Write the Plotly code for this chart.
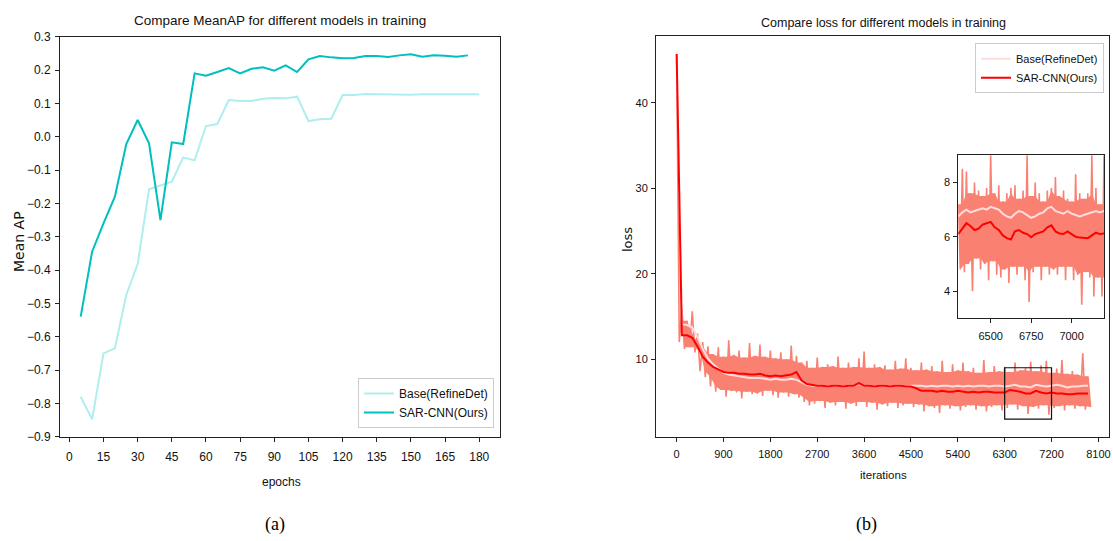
import plotly.graph_objects as go

# ---------------- (a) Mean AP data ----------------
epochs_base = list(range(5, 181, 5))
base_ap = [-0.78, -0.848, -0.65, -0.635, -0.475, -0.382, -0.158, -0.146, -0.135, -0.062,
           -0.071, 0.032, 0.038, 0.11, 0.107, 0.107, 0.114, 0.116, 0.115, 0.12,
           0.047, 0.052, 0.054, 0.125, 0.125, 0.128, 0.127, 0.126, 0.125, 0.126,
           0.127, 0.127, 0.127, 0.128, 0.128, 0.127]
epochs_sar = list(range(5, 176, 5))
sar_ap = [-0.54, -0.345, -0.26, -0.18, -0.022, 0.05, -0.02, -0.25, -0.017, -0.022,
          0.19, 0.183, 0.194, 0.206, 0.19, 0.204, 0.208, 0.198, 0.214, 0.194,
          0.232, 0.242, 0.238, 0.235, 0.236, 0.242, 0.242, 0.239, 0.244, 0.247,
          0.24, 0.244, 0.243, 0.24, 0.244]
ap_xticks = list(range(0, 181, 15))
ap_yticks = [0.3, 0.2, 0.1, 0.0, -0.1, -0.2, -0.3, -0.4, -0.5, -0.6, -0.7, -0.8, -0.9]
ap_yticklabels = ["0.3", "0.2", "0.1", "0.0", "\u22120.1", "\u22120.2", "\u22120.3", "\u22120.4",
                  "\u22120.5", "\u22120.6", "\u22120.7", "\u22120.8", "\u22120.9"]

# ---------------- (b) loss data ----------------
iters = list(range(0, 8000, 100))
raw_hi = [45.7, 16.0, 14.5, 15.6, 13.0, 12.0, 11.5, 10.6, 11.4, 10.3,
          12.2, 10.5, 11.0, 10.2, 11.9, 10.4, 11.7, 10.3, 11.0, 10.1,
          10.8, 10.0, 11.6, 10.4, 9.6, 9.8, 9.0, 10.2, 9.1, 9.4,
          9.2, 10.3, 9.0, 9.6, 9.1, 10.1, 10.9, 9.0, 9.4, 9.1,
          9.3, 8.8, 9.8, 8.9, 10.1, 9.0, 8.7, 9.6, 8.8, 9.2,
          8.6, 9.8, 8.5, 9.4, 8.7, 9.6, 8.6, 9.0, 8.4, 9.9,
          8.5, 9.2, 8.6, 9.1, 8.5, 9.6, 8.7, 9.0, 9.7, 8.6,
          9.3, 9.8, 8.4, 8.9, 9.9, 8.3, 8.6, 8.2, 10.7, 8.0]
raw_lo = [12.0, 11.2, 11.4, 10.8, 8.6, 7.9, 6.8, 6.2, 6.4, 5.6,
          6.3, 6.1, 5.4, 6.2, 5.9, 6.0, 5.7, 6.3, 5.8, 5.5,
          6.1, 5.6, 5.9, 5.5, 5.0, 4.6, 4.8, 5.1, 4.3, 4.9,
          4.6, 5.0, 4.2, 4.8, 4.5, 5.0, 4.4, 4.9, 4.1, 4.7,
          4.5, 4.9, 4.3, 4.6, 4.8, 4.4, 4.7, 3.9, 4.5, 4.3,
          3.7, 4.6, 4.2, 4.5, 4.0, 4.4, 4.6, 4.1, 4.5, 3.9,
          4.4, 4.6, 4.0, 4.3, 4.7, 4.1, 4.5, 3.6, 4.4, 4.2,
          4.6, 3.5, 4.3, 4.5, 4.0, 4.6, 4.2, 4.5, 4.1, 4.4]
base_smooth = [45.7, 14.1, 14.0, 13.7, 12.6, 11.2, 10.1, 9.4, 8.9, 8.4,
               8.2, 8.1, 8.0, 7.9, 7.8, 7.8, 7.8, 7.7, 7.6, 7.7,
               7.6, 7.6, 7.7, 7.6, 7.3, 7.0, 6.9, 6.9, 6.9, 6.8,
               6.9, 6.9, 6.8, 6.9, 6.9, 7.1, 6.9, 6.9, 6.8, 6.9,
               6.9, 6.8, 6.9, 6.9, 6.8, 6.9, 6.9, 6.9, 6.8, 6.9,
               6.8, 6.9, 6.9, 6.8, 6.9, 6.8, 6.9, 6.8, 6.9, 6.9,
               6.8, 6.9, 6.9, 6.8, 6.9, 7.0, 6.8, 6.8, 6.7, 7.0,
               6.9, 6.8, 6.9, 7.0, 6.9, 6.7, 6.8, 6.8, 6.9, 6.9]
sar_smooth = [45.7, 12.8, 12.8, 12.5, 11.5, 10.3, 9.6, 9.1, 8.8, 8.5,
              8.4, 8.4, 8.3, 8.3, 8.2, 8.2, 8.3, 8.1, 8.0, 8.1,
              8.0, 8.1, 8.2, 8.5, 7.5, 7.1, 7.0, 6.9, 6.9, 6.8,
              6.9, 6.9, 6.8, 6.9, 6.9, 7.2, 6.9, 6.9, 6.8, 6.9,
              6.9, 6.8, 6.9, 6.9, 6.8, 6.8, 6.6, 6.3, 6.3, 6.3,
              6.2, 6.3, 6.2, 6.2, 6.3, 6.2, 6.1, 6.2, 6.1, 6.2,
              6.2, 6.1, 6.1, 6.1, 6.4, 6.3, 6.2, 6.0, 6.0, 6.3,
              6.1, 6.0, 6.1, 6.0, 6.0, 5.9, 5.9, 6.0, 6.0, 6.0]
loss_xticks = list(range(0, 8101, 900))
loss_yticks = [10, 20, 30, 40]

# ---------------- inset (zoom 6300-7200) ----------------
inset_iters = list(range(6300, 7201, 25))
inset_hi = [7.2, 8.5, 8.4, 7.6, 8.0, 7.7, 7.5, 7.8, 9.0, 7.6,
            7.9, 7.3, 7.6, 7.8, 7.9, 7.4, 7.7, 9.0, 7.5, 8.0,
            7.6, 7.3, 7.7, 7.8, 8.2, 7.5, 7.7, 7.4, 7.3, 8.3,
            7.6, 7.4, 7.6, 9.0, 7.8, 7.2, 9.0]
inset_lo = [4.8, 4.7, 5.0, 4.0, 5.2, 4.8, 5.0, 4.4, 5.1, 4.6,
            4.5, 4.8, 4.3, 4.9, 4.6, 4.9, 4.4, 3.6, 4.7, 4.9,
            4.4, 4.9, 4.6, 4.8, 4.6, 4.9, 4.4, 4.9, 4.4, 4.6,
            3.5, 4.7, 4.5, 3.8, 4.5, 3.8, 4.5]
inset_base = [6.75, 6.9, 7.0, 6.9, 6.95, 7.0, 7.05, 7.0, 7.1, 7.05,
              7.0, 6.85, 6.75, 6.7, 6.85, 6.95, 6.9, 6.8, 6.7, 6.75,
              6.85, 6.9, 7.05, 7.1, 6.95, 6.9, 6.85, 6.95, 6.85, 6.8,
              6.75, 6.8, 6.85, 6.9, 6.95, 6.9, 6.95]
inset_sar = [6.1, 6.3, 6.5, 6.4, 6.25, 6.3, 6.45, 6.5, 6.55, 6.35,
             6.25, 6.05, 5.95, 5.9, 6.2, 6.25, 6.15, 6.1, 5.98, 6.1,
             6.15, 6.2, 6.35, 6.42, 6.2, 6.12, 6.1, 6.2, 6.1, 6.0,
             5.97, 5.95, 5.95, 6.05, 6.15, 6.1, 6.12]
inset_xticks = [6500, 6750, 7000]
inset_yticks = [4, 6, 8]
zoom_box = dict(x0=6300, x1=7200, y0=3, y1=9)


def zigzag(xs, hi, lo, half):
    zx, zy = [], []
    for x, h, l in zip(xs, hi, lo):
        zx += [x, x + half]
        zy += [h, l]
    return zx, zy


def core_band(xs, hi, lo, half, skip_first=False):
    """Solid core of the noisy band: the lower of neighbouring peaks / higher of neighbouring troughs."""
    n = len(xs)
    start = 1 if skip_first else 0
    top_x, top_y, bot_x, bot_y = [], [], [], []
    for i in range(start, n):
        a, b = max(start, i - 1), min(n - 1, i + 1)
        top_x.append(xs[i])
        top_y.append(min(hi[a:b + 1]))
        bot_x.append(xs[i] + half)
        bot_y.append(max(lo[a:b + 1]))
    return top_x + bot_x[::-1], top_y + bot_y[::-1]


W, H = 1113, 541
SANS = "Liberation Sans, Arial, sans-serif"
DJV = "DejaVu Sans, sans-serif"

SALMON = "#FA8072"
PINK = "#FFDDDD"
RED = "#FF0000"
CYAN_L = "#AFEEEE"
CYAN_D = "#00BFBF"

fig = go.Figure()

# (a)
fig.add_trace(go.Scatter(x=epochs_base, y=base_ap, mode="lines", name="Base(RefineDet)",
                         line=dict(color=CYAN_L, width=2), xaxis="x", yaxis="y", legend="legend"))
fig.add_trace(go.Scatter(x=epochs_sar, y=sar_ap, mode="lines", name="SAR-CNN(Ours)",
                         line=dict(color=CYAN_D, width=2), xaxis="x", yaxis="y", legend="legend"))

# (b) main
cx, cy = core_band(iters, raw_hi, raw_lo, 50, skip_first=True)
fig.add_trace(go.Scatter(x=cx, y=cy, mode="lines", fill="toself", fillcolor=SALMON, showlegend=False,
                         hoverinfo="skip", line=dict(width=0, color=SALMON), xaxis="x2", yaxis="y2"))
rx, ry = zigzag(iters, raw_hi, raw_lo, 50)
fig.add_trace(go.Scatter(x=rx, y=ry, mode="lines", showlegend=False, hoverinfo="skip",
                         line=dict(color=SALMON, width=1.6), xaxis="x2", yaxis="y2"))
fig.add_trace(go.Scatter(x=iters, y=base_smooth, mode="lines", name="Base(RefineDet)",
                         line=dict(color=PINK, width=2), xaxis="x2", yaxis="y2", legend="legend2"))
fig.add_trace(go.Scatter(x=iters, y=sar_smooth, mode="lines", name="SAR-CNN(Ours)",
                         line=dict(color=RED, width=2), xaxis="x2", yaxis="y2", legend="legend2"))

# inset
icx, icy = core_band(inset_iters, inset_hi, inset_lo, 12.5)
fig.add_trace(go.Scatter(x=icx, y=icy, mode="lines", fill="toself", fillcolor=SALMON, showlegend=False,
                         hoverinfo="skip", line=dict(width=0, color=SALMON), xaxis="x3", yaxis="y3"))
ix, iy = zigzag(inset_iters, inset_hi, inset_lo, 12.5)
fig.add_trace(go.Scatter(x=ix, y=iy, mode="lines", showlegend=False, hoverinfo="skip",
                         line=dict(color=SALMON, width=1.6), xaxis="x3", yaxis="y3"))
fig.add_trace(go.Scatter(x=inset_iters, y=inset_base, mode="lines", showlegend=False,
                         line=dict(color=PINK, width=2), xaxis="x3", yaxis="y3"))
fig.add_trace(go.Scatter(x=inset_iters, y=inset_sar, mode="lines", showlegend=False,
                         line=dict(color=RED, width=2), xaxis="x3", yaxis="y3"))


def ax(domain, rng, tickvals, ticktext=None, anchor=None, size=12, standoff=0):
    d = dict(domain=domain, range=rng, tickmode="array", tickvals=tickvals,
             showgrid=False, zeroline=False, showline=True, mirror=True, automargin=False,
             linecolor="#222", linewidth=1, ticks="outside", ticklen=4, tickwidth=1,
             tickcolor="#222", tickfont=dict(family=SANS, size=size, color="#111"),
             ticklabelstandoff=standoff, anchor=anchor)
    if ticktext is not None:
        d["ticktext"] = ticktext
    return d


def note(text, x, y, size, family=SANS, angle=0, color="#111"):
    return dict(text=text, x=x / W, y=1 - y / H, xref="paper", yref="paper", showarrow=False,
                xanchor="center", yanchor="middle", textangle=angle,
                font=dict(family=family, size=size, color=color))


fig.update_layout(
    width=W, height=H, margin=dict(l=0, r=0, t=0, b=0, pad=0, autoexpand=False),
    paper_bgcolor="white", plot_bgcolor="white",
    xaxis=ax([60 / W, 500 / W], [-4.1, 189.1], ap_xticks, anchor="y", size=12, standoff=5),
    yaxis=ax([1 - 436.7 / H, 1 - 36.7 / H], [-0.9, 0.3], ap_yticks, ap_yticklabels, anchor="x",
             size=12, standoff=2),
    xaxis2=ax([656 / W, 1109 / W], [-397, 8304], loss_xticks, anchor="y2", size=11, standoff=3),
    yaxis2=ax([1 - 437 / H, 1 - 36 / H], [0.9, 47.8], loss_yticks, anchor="x2", size=11, standoff=1),
    xaxis3=ax([958.3 / W, 1104 / W], [6300, 7200], inset_xticks, anchor="y3", size=11, standoff=3),
    yaxis3=ax([1 - 318.3 / H, 1 - 155.3 / H], [3, 9], inset_yticks, anchor="x3", size=11, standoff=1),
    legend=dict(x=494 / W, y=1 - 428 / H, xanchor="right", yanchor="bottom",
                bgcolor="rgba(255,255,255,0.9)", bordercolor="#ccc", borderwidth=1,
                font=dict(family=SANS, size=12, color="#111"), itemwidth=30),
    legend2=dict(x=1104 / W, y=1 - 43.3 / H, xanchor="right", yanchor="top",
                 bgcolor="rgba(255,255,255,0.9)", bordercolor="#ccc", borderwidth=1,
                 font=dict(family=SANS, size=11, color="#111"), itemwidth=30),
    shapes=[dict(type="rect", xref="x2", yref="y2", line=dict(color="#111", width=1.2),
                 **zoom_box)],
    annotations=[
        note("Compare MeanAP for different models in training", 280, 20, 13.5),
        note("Compare loss for different models in training", 883, 23, 12.5),
        note("epochs", 281, 482, 12),
        note("iterations", 883, 475, 11.5),
        note("Mean AP", 19, 242, 14, family=DJV, angle=-90),
        note("loss", 627, 240, 13, family=DJV, angle=-90),
        note("(a)", 275, 524, 18, family="Liberation Serif", color="#000"),
        note("(b)", 866, 524, 18, family="Liberation Serif", color="#000"),
    ],
)

fig.write_html("out.html", config={"displayModeBar": False},
               post_script="document.body.style.margin='0';document.body.style.padding='0';"
                           "document.documentElement.style.overflow='hidden';")
